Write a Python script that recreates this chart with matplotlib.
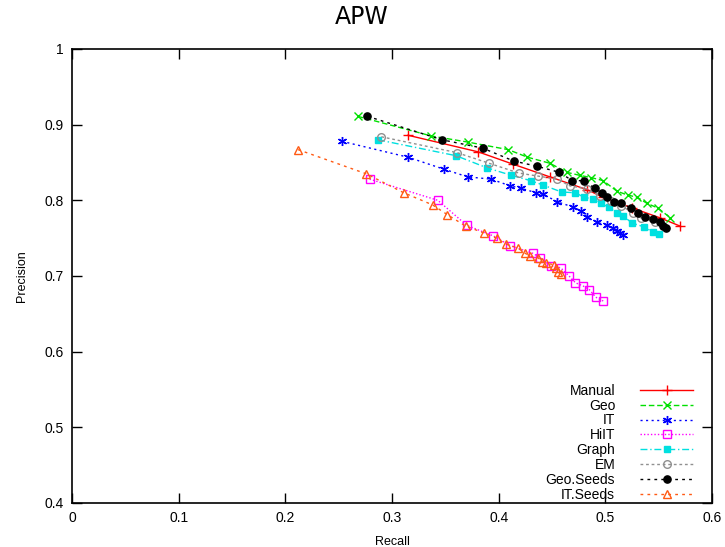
import matplotlib
matplotlib.use("Agg")
import matplotlib.pyplot as plt

plt.rcParams['font.family'] = ['Liberation Sans', 'DejaVu Sans']

manual_r = [0.315, 0.381, 0.413, 0.448, 0.483, 0.498, 0.525, 0.551, 0.570]
manual_p = [0.886, 0.864, 0.848, 0.831, 0.814, 0.804, 0.790, 0.777, 0.766]

geo_r = [0.268, 0.337, 0.371, 0.409, 0.427, 0.448, 0.464, 0.476, 0.487, 0.498,
         0.511, 0.521, 0.530, 0.539, 0.549, 0.561]
geo_p = [0.911, 0.885, 0.877, 0.867, 0.857, 0.849, 0.837, 0.833, 0.830, 0.826,
         0.812, 0.807, 0.804, 0.796, 0.790, 0.777]

it_r = [0.253, 0.315, 0.349, 0.371, 0.393, 0.411, 0.421, 0.435, 0.442, 0.455,
        0.470, 0.477, 0.483, 0.492, 0.502, 0.507, 0.511, 0.514, 0.517]
it_p = [0.878, 0.857, 0.841, 0.831, 0.828, 0.819, 0.816, 0.810, 0.808, 0.798,
        0.791, 0.786, 0.778, 0.771, 0.767, 0.763, 0.759, 0.757, 0.754]

hiit_r = [0.279, 0.343, 0.370, 0.395, 0.411, 0.432, 0.439, 0.449, 0.458, 0.466,
          0.472, 0.479, 0.485, 0.491, 0.498]
hiit_p = [0.828, 0.800, 0.767, 0.753, 0.740, 0.730, 0.724, 0.713, 0.711, 0.700,
          0.691, 0.687, 0.682, 0.672, 0.667]

graph_r = [0.287, 0.360, 0.389, 0.412, 0.430, 0.442, 0.459, 0.472, 0.480, 0.488,
           0.496, 0.503, 0.511, 0.517, 0.525, 0.536, 0.545, 0.550]
graph_p = [0.880, 0.859, 0.843, 0.833, 0.826, 0.820, 0.811, 0.810, 0.804, 0.802,
           0.796, 0.791, 0.783, 0.779, 0.770, 0.765, 0.758, 0.756]

em_r = [0.290, 0.361, 0.391, 0.419, 0.437, 0.455, 0.467, 0.483, 0.495, 0.505,
        0.515, 0.526, 0.533, 0.547]
em_p = [0.884, 0.863, 0.849, 0.836, 0.832, 0.828, 0.819, 0.815, 0.806, 0.799,
        0.793, 0.783, 0.777, 0.771]

geos_r = [0.277, 0.347, 0.385, 0.414, 0.436, 0.457, 0.469, 0.480, 0.490, 0.497,
          0.502, 0.508, 0.515, 0.524, 0.531, 0.537, 0.545, 0.551, 0.554, 0.557]
geos_p = [0.911, 0.880, 0.869, 0.852, 0.845, 0.837, 0.826, 0.826, 0.816, 0.810,
          0.804, 0.798, 0.796, 0.790, 0.783, 0.778, 0.775, 0.771, 0.766, 0.763]

its_r = [0.212, 0.276, 0.311, 0.338, 0.352, 0.369, 0.386, 0.398, 0.407, 0.418,
         0.425, 0.429, 0.437, 0.441, 0.444, 0.452, 0.454, 0.456, 0.458]
its_p = [0.867, 0.835, 0.810, 0.794, 0.781, 0.766, 0.757, 0.750, 0.742, 0.737,
         0.730, 0.726, 0.724, 0.719, 0.717, 0.715, 0.711, 0.705, 0.703]

x_ticks = [0, 0.1, 0.2, 0.3, 0.4, 0.5, 0.6]
y_ticks = [0.4, 0.5, 0.6, 0.7, 0.8, 0.9, 1.0]
x_ticklabels = ['0', '0.1', '0.2', '0.3', '0.4', '0.5', '0.6']
y_ticklabels = ['0.4', '0.5', '0.6', '0.7', '0.8', '0.9', '1']

fig = plt.figure(figsize=(7.25, 5.47), dpi=100)
ax = fig.add_axes([72/725, 44/547, 640/725, 454/547])

series = [
    ("Manual", manual_r, manual_p, dict(color='#ff0000', ls='-', marker='+', ms=7, mfc='none')),
    ("Geo", geo_r, geo_p, dict(color='#00e000', ls=(0, (4, 2)), marker='x', ms=5.5, mfc='none')),
    ("IT", it_r, it_p, dict(color='#0000ff', ls=(0, (1.5, 2.5)), marker=(6, 2, 0), ms=6.5, mfc='none')),
    ("HiIT", hiit_r, hiit_p, dict(color='#ff00ff', ls=(0, (1, 1.5)), marker='s', ms=5.5, mfc='none')),
    ("Graph", graph_r, graph_p, dict(color='#00e0e0', ls=(0, (5, 2, 1, 2)), marker='s', ms=4.8)),
    ("EM", em_r, em_p, dict(color='#909090', ls=(0, (2, 2)), marker='o', ms=5.5, mfc='none')),
    ("Geo.Seeds", geos_r, geos_p, dict(color='#000000', ls=(0, (2, 3)), marker='o', ms=5.2)),
    ("IT.Seeds", its_r, its_p, dict(color='#ff5a14', ls=(0, (2, 3)), marker='^', ms=5.5, mfc='none')),
]

for name, r, p, st in series:
    ax.plot(r, p, label=name, lw=1.0, mew=1.0, **st)

ax.set_xlim(0, 0.6)
ax.set_ylim(0.4, 1.0)
ax.set_xticks(x_ticks)
ax.set_xticklabels(x_ticklabels)
ax.set_yticks(y_ticks)
ax.set_yticklabels(y_ticklabels)
ax.tick_params(direction='in', length=7, width=1, top=True, right=True, labelsize=10, pad=6)
for s in ax.spines.values():
    s.set_linewidth(1.2)

ax.set_xlabel('Recall', fontsize=9, labelpad=8)
ax.set_ylabel('Precision', fontsize=9, labelpad=12)
fig.text(362/725, 1 - 17/547, 'APW', ha='center', va='center', fontsize=17,
         family=['DejaVu Sans'])

leg = ax.legend(loc='lower right', markerfirst=False, frameon=False, fontsize=10,
                handlelength=3.8, labelspacing=0.06, borderaxespad=0.0,
                handletextpad=1.8, bbox_to_anchor=(0.979, -0.009))

fig.savefig('out.png', dpi=100)
